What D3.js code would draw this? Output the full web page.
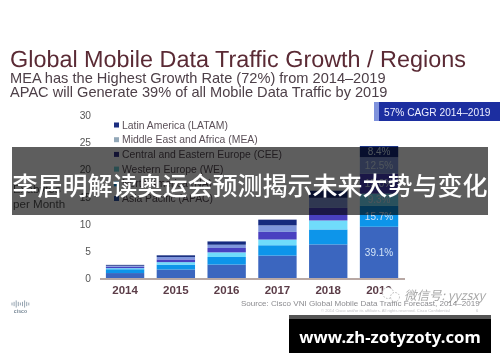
<!DOCTYPE html>
<html><head><meta charset="utf-8">
<script src="https://cdn.jsdelivr.net/npm/d3@7/dist/d3.min.js"></script>
<style>html,body{margin:0;padding:0;background:#fff}svg{display:block}text{font-family:"Liberation Sans",Arial,sans-serif}</style>
</head><body><div id="c"></div>
<script>
const years=["2014","2015","2016","2017","2018","2019"];
const regions=["APAC","NA","WE","CEE","MEA","LATAM"];
const APAC=[1.0,1.65,2.55,4.2,6.25,9.5];
const NA=[0.7,0.9,1.4,1.9,2.75,3.82];
const WE=[0.2,0.45,0.85,1.05,1.65,2.26];
const CEE=[0.25,0.5,0.8,1.4,2.3,3.64];
const MEA=[0.2,0.45,0.6,1.2,1.85,3.04];
const LATAM=[0.15,0.3,0.6,1.05,1.3,2.04];
const barColors=["#3a66bf","#0f95ea","#6fdcfb","#4a3fc0","#7f96dc","#13297e"];
const shares2019=["39.1%","15.7%","9.3%","15.0%","12.5%","8.4%"];
const yTicks=[0,5,10,15,20,25,30];
const legendLabels=["Latin America (LATAM)","Middle East and Africa (MEA)","Central and Eastern Europe (CEE)","Western Europe (WE)","North America (NA)","Asia Pacific (APAC)"];
const legendColors=["#1b2f80","#93a8b8","#34348c","#6fd0d8","#0f95ea","#2f55a8"];
const axisTitle=["Exabytes","per Month"];
const titleText="Global Mobile Data Traffic Growth / Regions";
const subLines=["MEA has the Highest Growth Rate (72%) from 2014–2019","APAC will Generate 39% of all Mobile Data Traffic by 2019"];
const cagrText="57% CAGR 2014–2019";
const sourceText="Source: Cisco VNI Global Mobile Data Traffic Forecast, 2014–2019";
const copyText="© 2014 Cisco and/or its affiliates. All rights reserved. Cisco Confidential";
const bannerText="李居明解读奥运会预测揭示未来大势与变化";
const siteText="www.zh-zotyzoty.com";
const markText="微信号: yyzsxy";
const logoBars=[2,3,5,3,2,3,5,3,2];

const series={APAC,NA,WE,CEE,MEA,LATAM};
const rows=years.map((y,i)=>{const r={year:y};regions.forEach(k=>r[k]=series[k][i]);return r;});
const svg=d3.select("#c").append("svg").attr("width",500).attr("height",362);
const defs=svg.append("defs");
defs.append("filter").attr("id","soft").attr("x","-5%").attr("y","-5%").attr("width","110%").attr("height","110%")
  .append("feGaussianBlur").attr("stdDeviation",0.5);
const g=svg.append("g").attr("filter","url(#soft)");

const x=d3.scaleBand().domain(years).range([99.8,404.3]).paddingInner(0.245).paddingOuter(0.12);
const y=d3.scaleLinear().domain([0,30]).range([278.5,115]);
const stack=d3.stack().keys(regions)(rows);

// titles
g.append("text").attr("x",10).attr("y",66.5).attr("font-size",23.4).style("text-rendering","geometricPrecision").attr("fill","#5a2a34").text(titleText);
g.selectAll(".sub").data(subLines).join("text").attr("x",10).attr("y",(d,i)=>83+i*13.6)
  .attr("font-size",14.6).attr("fill","#4e4048").text(d=>d);

// CAGR box
g.append("rect").attr("x",374).attr("y",102).attr("width",126).attr("height",19).attr("fill","#1a2ea0");
g.append("rect").attr("x",374).attr("y",102).attr("width",5).attr("height",19).attr("fill","#7f92dc");
g.append("text").attr("x",384).attr("y",115.5).attr("font-size",10.2).attr("fill","#eef").text(cagrText);

// axis
const yAxis=d3.axisLeft(y).tickValues(yTicks).tickSize(0).tickPadding(0);
const ya=g.append("g").attr("transform","translate(91,0)").call(yAxis);
ya.select(".domain").remove();
ya.selectAll("text").attr("font-size",10.2).attr("fill","#555").style("font-family","Liberation Sans");

g.selectAll(".yt").data(axisTitle).join("text").attr("x",13).attr("y",(d,i)=>193+i*15)
  .attr("font-size",11.6).attr("fill","#555").text(d=>d);

// legend
const lg=g.selectAll(".lg").data(legendLabels).join("g").attr("transform",(d,i)=>`translate(114,${125+i*14.7})`);
lg.append("rect").attr("x",0).attr("y",-2.5).attr("width",5).attr("height",5).attr("fill",(d,i)=>legendColors[i]);
lg.append("text").attr("x",8).attr("y",3.6).attr("font-size",10.4).attr("fill","#5b5058").text(d=>d);

// bars
g.selectAll(".s").data(stack).join("g").attr("fill",(d,i)=>barColors[i])
 .selectAll("rect").data(d=>d).join("rect")
 .attr("x",d=>x(d.data.year)).attr("width",x.bandwidth())
 .attr("y",d=>y(d[1])).attr("height",d=>y(d[0])-y(d[1]));

// 2019 share labels
g.selectAll(".share").data(stack).join("text")
 .attr("x",x("2019")+x.bandwidth()/2)
 .attr("y",(d,i)=>{const p=d[5];return (y(p[0])+y(p[1]))/2+3.6;})
 .attr("text-anchor","middle").attr("font-size",10).attr("fill","#d3e4f7").text((d,i)=>shares2019[i]);

// baseline + x labels
g.append("line").attr("x1",100).attr("x2",405).attr("y1",279).attr("y2",279).attr("stroke","#b8a8a4").attr("stroke-width",2);
g.selectAll(".xl").data(years).join("text").attr("x",d=>x(d)+x.bandwidth()/2).attr("y",293.5)
  .attr("text-anchor","middle").attr("font-size",11.5).attr("font-weight","bold").attr("fill","#5b3d48").text(d=>d);

// source
g.append("text").attr("x",241).attr("y",306).attr("font-size",8.05).attr("fill","#8c8c90").text(sourceText);
g.append("text").attr("x",321).attr("y",312).attr("font-size",4.1).attr("fill","#c4c4c8").text(copyText);
g.append("text").attr("x",476).attr("y",312).attr("font-size",4.1).attr("fill","#c4c4c8").text("6");

// cisco logo
g.selectAll(".lb").data(logoBars).join("line").attr("x1",(d,i)=>12+i*2.1).attr("x2",(d,i)=>12+i*2.1)
 .attr("y1",d=>304-d/1.4).attr("y2",d=>304+d/1.4).attr("stroke","#8a9aa8").attr("stroke-width",0.9);
g.append("text").attr("x",20.5).attr("y",312.5).attr("text-anchor","middle").attr("font-size",5.2).attr("font-weight","bold").attr("fill","#7a8a98").text("cisco");

// watermark
const wm=svg.append("g");
wm.append("circle").attr("cx",388).attr("cy",293).attr("r",5.5).attr("fill","#fff").attr("stroke","#bbb").attr("stroke-dasharray","1.5 1.5");
wm.append("circle").attr("cx",395).attr("cy",297).attr("r",4.5).attr("fill","#fff").attr("stroke","#bbb").attr("stroke-dasharray","1.5 1.5");
wm.append("text").attr("x",404).attr("y",300).attr("font-size",12.5).attr("font-style","italic").style("font-family","'Noto Sans CJK SC'").attr("fill","#8b8b8b").attr("fill-opacity",.75).text(markText);

// banner
svg.append("rect").attr("x",12).attr("y",147).attr("width",476).attr("height",68).attr("fill","#000").attr("fill-opacity",.63);
svg.append("text").attr("x",250).attr("y",195).attr("text-anchor","middle").attr("font-size",25).attr("font-weight",500)
  .style("font-family","'Noto Sans CJK SC'").attr("fill","#fff").text(bannerText);

// site box
svg.append("rect").attr("x",289).attr("y",315).attr("width",202).attr("height",38).attr("fill","#000");
svg.append("rect").attr("x",289).attr("y",315).attr("width",202).attr("height",4).attr("fill","#555");
svg.append("text").attr("x",390).attr("y",342.5).attr("text-anchor","middle").attr("font-size",16.7).attr("font-weight","bold")
  .style("font-family","'Noto Sans'").attr("fill","#fff").text(siteText);
</script></body></html>
